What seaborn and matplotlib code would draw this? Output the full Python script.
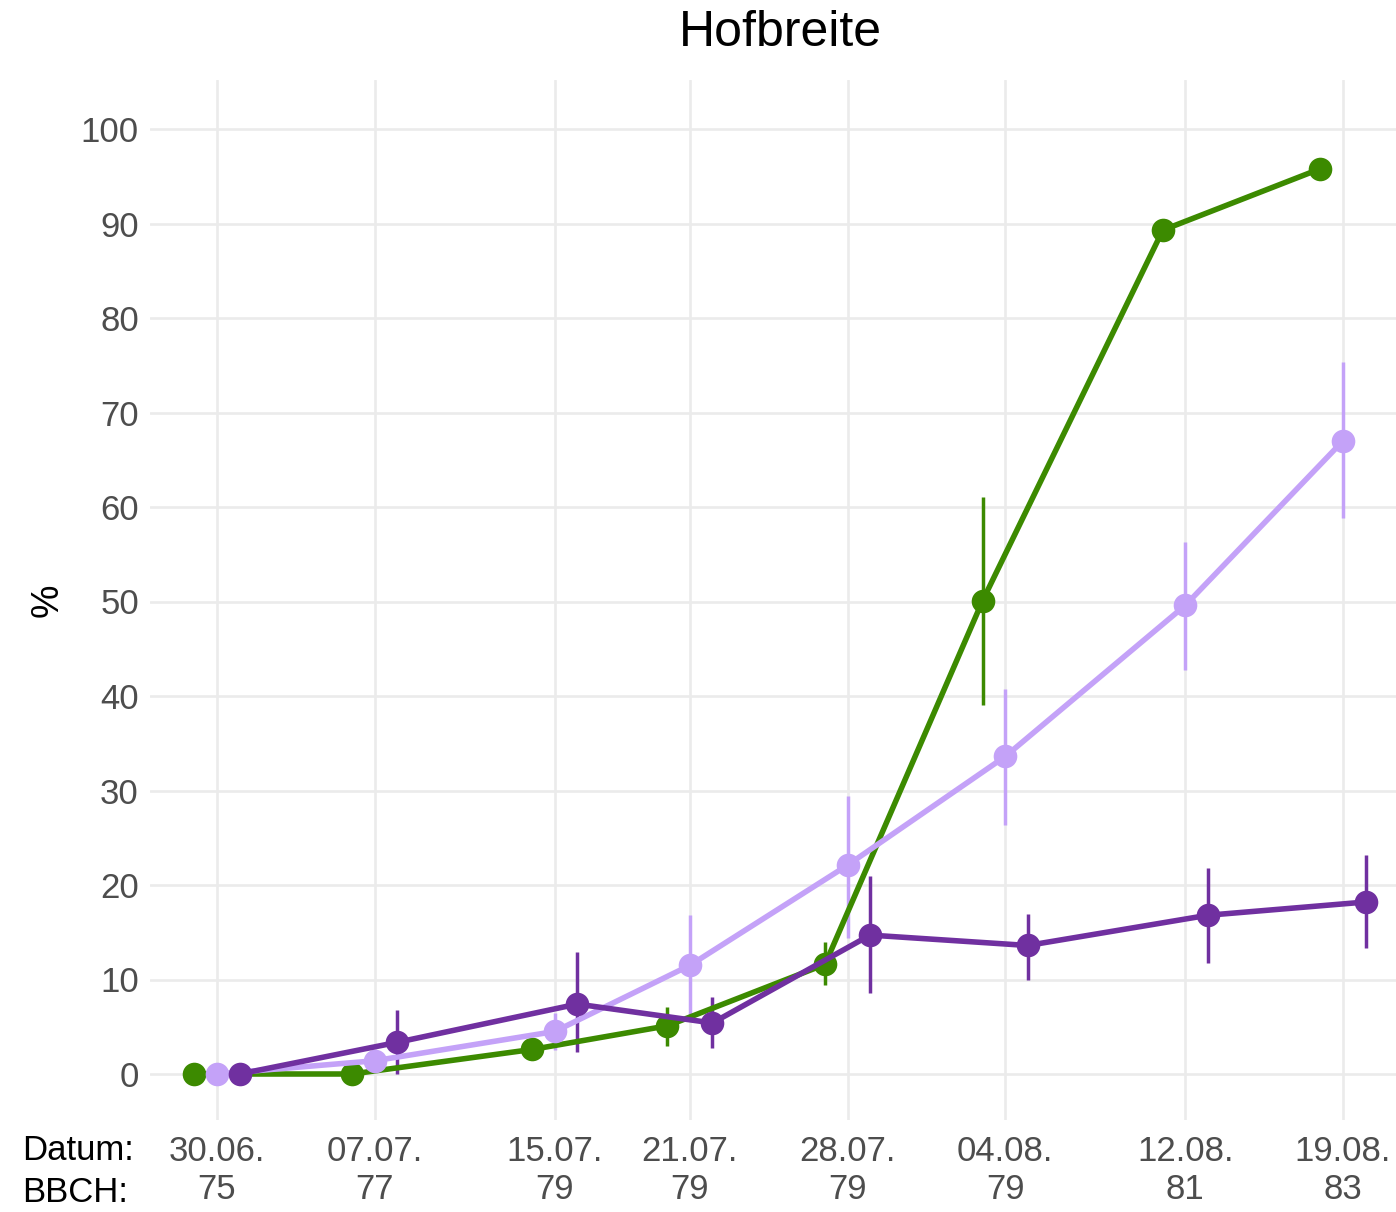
import numpy as np
import pandas as pd
import seaborn as sns
import matplotlib
matplotlib.use("Agg")
import matplotlib.pyplot as plt

# --- data ---
dates = ["30.06.", "07.07.", "15.07.", "21.07.", "28.07.", "04.08.", "12.08.", "19.08."]
bbch = ["75", "77", "79", "79", "79", "79", "81", "83"]

series_names = ["Variante 1", "Variante 2", "Variante 3"]
series_colors = ["#3c8a00", "#c4a2f8", "#7030a0"]

green_mean = [0, 0, 2.6, 5.1, 11.6, 50.1, 89.3, 95.8]
green_lo = [0, 0, 2.0, 3.0, 9.4, 39.0, 88.5, 95.8]
green_hi = [0, 0, 3.2, 7.1, 14.0, 61.1, 90.3, 95.8]

light_mean = [0, 1.4, 4.5, 11.5, 22.1, 33.6, 49.6, 67.0]
light_lo = [0, 0.5, 2.5, 6.2, 14.4, 26.4, 42.8, 58.8]
light_hi = [0, 2.3, 6.5, 16.8, 29.4, 40.7, 56.3, 75.3]

dark_mean = [0, 3.35, 7.4, 5.4, 14.7, 13.6, 16.8, 18.2]
dark_lo = [0, 0.0, 2.3, 2.7, 8.6, 10.0, 11.7, 13.3]
dark_hi = [0, 6.8, 12.9, 8.2, 20.9, 16.9, 21.8, 23.2]

# days since first sampling date
dt = pd.to_datetime([d + "2023" for d in dates], format="%d.%m.%Y")
days = np.asarray((dt - dt[0]).days, dtype=float)

dodge = 1.0  # days between neighbouring series
frames = []
for k, (name, m, lo, hi) in enumerate(zip(
        series_names,
        [green_mean, light_mean, dark_mean],
        [green_lo, light_lo, dark_lo],
        [green_hi, light_hi, dark_hi])):
    frames.append(pd.DataFrame({
        "series": name,
        "x": days + (k - 1) * dodge,
        "mean": m,
        "lo": lo,
        "hi": hi,
    }))
df = pd.concat(frames, ignore_index=True)
palette = dict(zip(series_names, series_colors))

sns.set_theme(style="white")
plt.rcParams["font.family"] = ["Liberation Sans", "DejaVu Sans"]

W, H = 1396, 1212
fig = plt.figure(figsize=(W / 100, H / 100), dpi=100)
ax_l, ax_r, ax_t, ax_b = 150, 1396, 80, 1120
ax = fig.add_axes([ax_l / W, 1 - ax_b / H, (ax_r - ax_l) / W, (ax_b - ax_t) / H])

# error ranges
for name, g in df.groupby("series", sort=False):
    ax.vlines(g["x"], g["lo"], g["hi"], colors=palette[name], linewidth=2.5, zorder=3)

sns.lineplot(
    data=df, x="x", y="mean", hue="series", hue_order=series_names,
    palette=palette, marker="o", markersize=17, markeredgewidth=0,
    linewidth=4.0, legend=False, sort=True, ax=ax, zorder=4,
)

# axis ranges (ggplot-style padding)
px_per_day = (1343 - 217) / 50
ax.set_xlim((ax_l - 217) / px_per_day, (ax_r - 217) / px_per_day)
px_per_unit = (1074 - 129) / 100
ax.set_ylim((1074 - ax_b) / px_per_unit, (1074 - ax_t) / px_per_unit)

ax.set_xticks(days)
ax.set_xticklabels([f"{d}\n{b}" for d, b in zip(dates, bbch)], linespacing=1.2)
ax.set_yticks(np.arange(0, 101, 10))
ax.tick_params(axis="both", length=0, labelsize=25, colors="#4d4d4d")
ax.tick_params(axis="x", pad=11)
ax.tick_params(axis="y", pad=8)
ax.grid(True, color="#ebebeb", linewidth=1.9)
ax.set_axisbelow(True)
for s in ax.spines.values():
    s.set_visible(False)
ax.set_xlabel("")
ax.set_ylabel("")

fig.text(780 / W, 1 - 33 / H, "Hofbreite", ha="center", va="center", fontsize=36, color="black")
fig.text(48 / W, 1 - 600 / H, "%", rotation=90, ha="center", va="center", fontsize=27, color="black")
fig.text(22 / W, 1 - 1150 / H, "Datum:", ha="left", va="center", fontsize=25, color="black")
fig.text(22 / W, 1 - 1192 / H, "BBCH:", ha="left", va="center", fontsize=25, color="black")

fig.savefig("out.png", dpi=100)
